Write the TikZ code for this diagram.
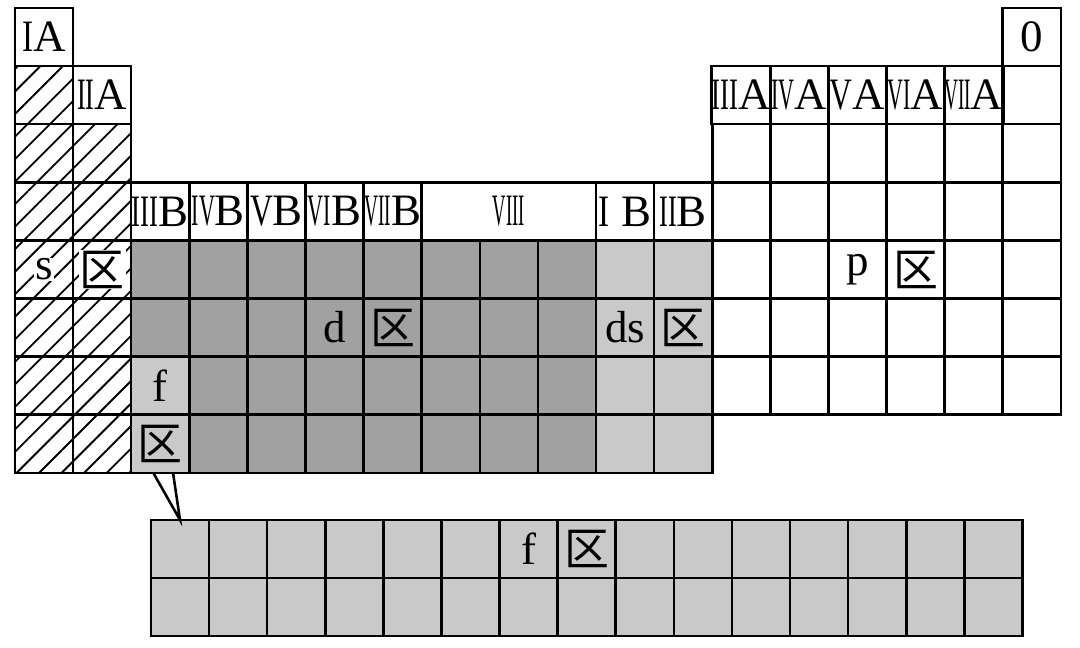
\documentclass[tikz,border=0pt]{standalone}
\usepackage{fontspec}
\setmainfont{Liberation Serif}
\newfontfamily\cjk{Noto Sans CJK SC}
\usetikzlibrary{patterns.meta}
\newcommand{\rn}[2]{\resizebox{#1cm}{\height}{#2}}
\newcommand{\qu}{{\cjk 区}}
\definecolor{dblock}{gray}{0.63}
\definecolor{lblock}{gray}{0.79}

\begin{document}
\begin{tikzpicture}[
    cell/.style={draw, line width=1.25pt, minimum size=1cm, inner sep=0pt,
      outer sep=0pt, font=\fontsize{22}{24}\selectfont},
    hatch/.style={cell, pattern={Lines[angle=45,distance=7.8pt,line width=0.9pt]}},
    dcell/.style={cell, fill=dblock},
    lcell/.style={cell, fill=lblock},
    txt/.style={inner sep=0.5pt, font=\fontsize{22}{24}\selectfont}]
  \useasboundingbox (-0.258,0.138) rectangle (18.33,-11.0);

  % s block
  \node[cell] (g1) at (0.5,-0.5) {\rn{0.19}{I}A};
  \foreach \r in {2,...,8} \node[hatch] (s-\r-1) at (0.5,{0.5-\r}) {};
  \node[cell] (g2) at (1.5,-1.5) {\rn{0.3}{II}A};
  \foreach \r in {3,...,8} \node[hatch] (s-\r-2) at (1.5,{0.5-\r}) {};

  % p block
  \node[cell] (g18) at (17.5,-0.5) {0};
  \foreach \c/\t/\w in {13/III/0.46, 14/IV/0.40, 15/V/0.39, 16/VI/0.40, 17/VII/0.46}
    \node[cell] (g\c) at ({\c-0.5},-1.5) {\rn{\w}{\t}A};
  \node[cell] (p-2-18) at (17.5,-1.5) {};
  \foreach \r in {3,...,7}
    \foreach \c in {13,...,18}
      \node[cell] (p-\r-\c) at ({\c-0.5},{0.5-\r}) {};

  % d and ds heads
  \foreach \c/\t/\w in {3/III/0.46, 4/IV/0.40, 5/V/0.39, 6/VI/0.40, 7/VII/0.46}
    \node[cell] (g\c) at ({\c-0.5},-3.5) {\rn{\w}{\t}B};
  \node[cell, minimum width=3cm] (g8) at (8.5,-3.5) {\rn{0.55}{VIII}};
  \node[cell] (g11) at (10.5,-3.5) {\rn{0.19}{I} B};
  \node[cell] (g12) at (11.5,-3.5) {\rn{0.3}{II}B};

  % d block
  \foreach \r in {5,...,8}
    \foreach \c in {4,...,10}
      \node[dcell] (d-\r-\c) at ({\c-0.5},{0.5-\r}) {};
  \foreach \r in {5,6} \node[dcell] (d-\r-3) at (2.5,{0.5-\r}) {};
  \node[lcell] (f-7-3) at (2.5,-6.5) {};
  \node[lcell] (f-8-3) at (2.5,-7.5) {};

  % ds block
  \foreach \r in {5,...,8}
    \foreach \c in {11,12}
      \node[lcell] (ds-\r-\c) at ({\c-0.5},{0.5-\r}) {};

  % f block below
  \begin{scope}[shift={(2.34,-8.81)}]
    \foreach \r in {1,2}
      \foreach \c in {1,...,15}
        \node[lcell] (fb-\r-\c) at ({\c-0.5},{0.5-\r}) {};
  \end{scope}
  \coordinate (fa) at ([xshift=0.38cm]f-8-3.south west);
  \coordinate (fz) at ([xshift=0.72cm]f-8-3.south west);
  \draw[line width=1.25pt] (fa) -- (fb-1-1.north) -- (fz);

  % block names
  \node[txt, fill=white] (s-name) at (s-5-1) {s};
  \node[txt, fill=white] (s-qu) at (s-5-2) {\qu};
  \node[txt] (p-name) at (p-5-15) {p};
  \node[txt] (p-qu) at (p-5-16) {\qu};
  \node[txt] (d-name) at (d-6-6) {d};
  \node[txt] (d-qu) at (d-6-7) {\qu};
  \node[txt] (ds-name) at (ds-6-11) {ds};
  \node[txt] (ds-qu) at (ds-6-12) {\qu};
  \node[txt] (f-name) at (f-7-3) {f};
  \node[txt] (f-qu) at (f-8-3) {\qu};
  \node[txt] (fb-name) at (fb-1-7) {f};
  \node[txt] (fb-qu) at (fb-1-8) {\qu};
\end{tikzpicture}
\end{document}
